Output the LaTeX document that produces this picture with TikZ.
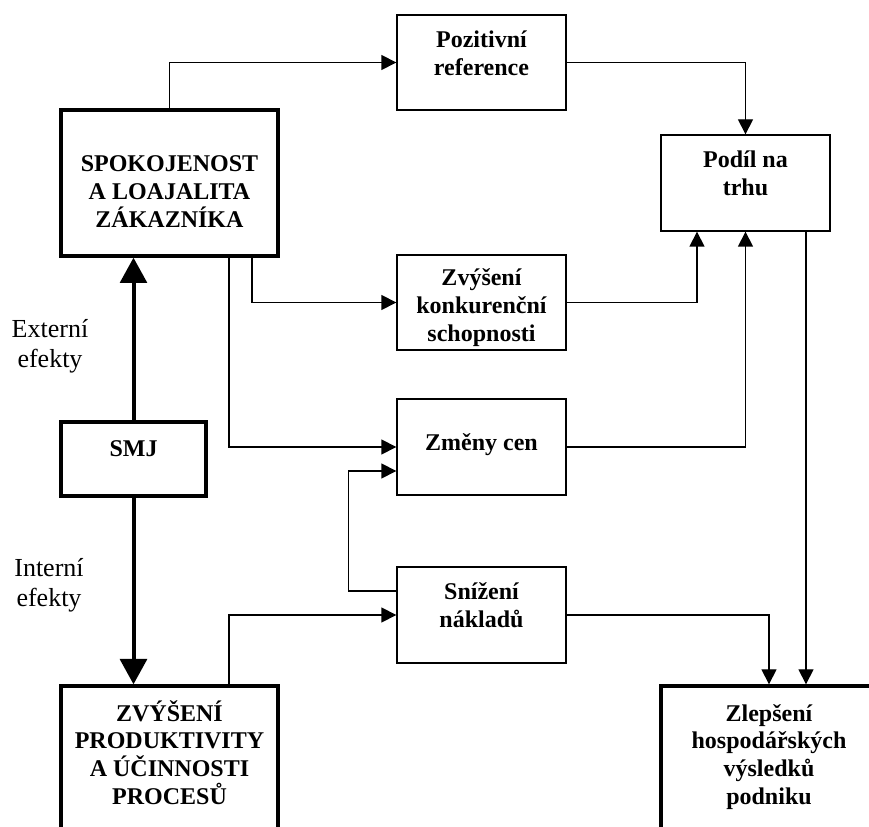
\documentclass[tikz,border=0pt]{standalone}
\usepackage{fontspec}
\setmainfont{Liberation Serif}
\usetikzlibrary{arrows.meta}
\newcommand{\bxt}[4]{\parbox[c][#1][t]{#2}{\centering\rule{0pt}{#3}#4}}
\begin{document}
\begin{tikzpicture}[x=0.75pt,y=-0.75pt,
  box/.style={draw, line width=1pt, inner sep=0pt, font=\fontsize{18}{20.8}\selectfont\bfseries},
  thickbox/.style={box, line width=2.5pt},
  arr/.style={line width=1pt, -{Triangle[length=11.25pt,width=11.25pt]}},
  bigarr/.style={line width=3pt, -{Triangle[length=19pt,width=20pt]}},
  lbl/.style={inner sep=0pt, anchor=base, font=\fontsize{19.5}{22}\selectfont}]
\clip (0,0) rectangle (869,827);
\fill[white] (0,0) rectangle (869,827);
% boxes
\node[box] (poz) at (481.5,62.5) {\bxt{71.25pt}{126.75pt}{24.75pt}{Pozitivní\\reference}};
\node[thickbox] (spok) at (169.5,183) {\bxt{109.5pt}{162.75pt}{46.5pt}{SPOKOJENOST\\A LOAJALITA\\ZÁKAZNÍKA}};
\node[box] (podil) at (745.5,183) {\bxt{72pt}{126.75pt}{24.75pt}{Podíl na\\trhu}};
\node[box] (konk) at (481.5,302.5) {\bxt{71.25pt}{126.75pt}{23.25pt}{Zvýšení\\konkurenční\\schopnosti}};
\node[thickbox] (smj) at (133.5,459) {\bxt{55.5pt}{108.75pt}{26.25pt}{SMJ}};
\node[box] (zmeny) at (481.5,447) {\bxt{72pt}{126.75pt}{39pt}{Změny cen}};
\node[box] (sniz) at (481.5,615) {\bxt{72pt}{126.75pt}{24.75pt}{Snížení\\nákladů}};
\node[thickbox] (zvys) at (169.5,783) {\bxt{145.5pt}{162.75pt}{26.25pt}{ZVÝŠENÍ\\PRODUKTIVITY\\A ÚČINNOSTI\\PROCESŮ}};
\node[thickbox] (zlep) at (769,783) {\bxt{145.5pt}{162pt}{26.25pt}{Zlepšení\\hospodářských\\výsledků\\podniku}};
% side labels
\node[lbl] (ext) at (50,338) {\parbox[t]{80pt}{\centering Externí\\efekty}};
\node[lbl] (int) at (49,577) {\parbox[t]{80pt}{\centering Interní\\efekty}};
% thick arrows
\draw[bigarr] (smj.north) -- (smj.north |- spok.south);
\draw[bigarr] (smj.south) -- (smj.south |- zvys.north);
% thin connectors
\draw[arr] (spok.north) |- (poz.west);
\draw[arr] (poz.east) -| (podil.north);
\draw[arr] ([xshift=61.875pt]spok.south) |- (konk.west);
\draw[arr] ([xshift=44.625pt]spok.south) |- (zmeny.west);
\draw[arr] (konk.east) -| ([xshift=-36.375pt]podil.south);
\draw[arr] (zmeny.east) -| (podil.south);
\draw[arr] ([yshift=18pt]sniz.west) -- ++(-48,0) |- ([yshift=-18pt]zmeny.west);
\draw[arr] ([xshift=44.625pt]zvys.north) |- (sniz.west);
\draw[arr] (sniz.east) -| (zlep.north);
\draw[arr] ([xshift=45.375pt]podil.south) -- ([xshift=27.75pt]zlep.north);
\end{tikzpicture}
\end{document}
